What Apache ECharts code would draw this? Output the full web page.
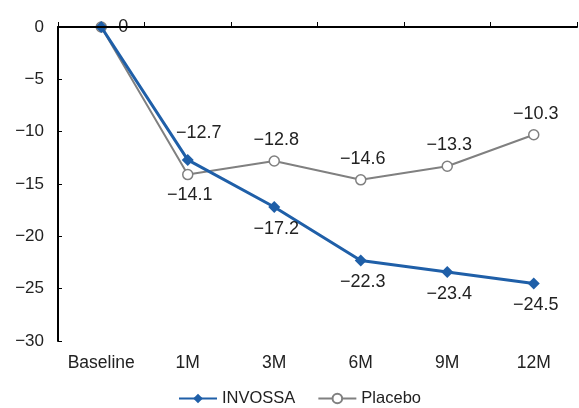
<!DOCTYPE html>
<html>
<head>
<meta charset="utf-8">
<script src="https://cdn.jsdelivr.net/npm/echarts@6/dist/echarts.min.js"></script>
<style>
html,body{margin:0;padding:0;background:#fff;}
#chart{width:579px;height:408px;}
</style>
</head>
<body>
<div id="chart"></div>
<script>
const categories = ['Baseline', '1M', '3M', '6M', '9M', '12M'];
const invossa = [0, -12.7, -17.2, -22.3, -23.4, -24.5];
const placebo = [0, -14.1, -12.8, -14.6, -13.3, -10.3];
const invossaLabelPos = ['right', 'top', 'bottom', 'bottom', 'bottom', 'bottom'];
const placeboLabelPos = [null, 'bottom', 'top', 'top', 'top', 'top'];

const FONT = '"Liberation Sans", Arial, sans-serif';
const minus = v => String(v).replace('-', '\u2212');

const chart = echarts.init(document.getElementById('chart'));

const invDist = { right: 9, top: 12, bottom: 7 };
const invData = invossa.map((v, i) => ({
  value: v,
  label: {
    show: true,
    position: invossaLabelPos[i],
    distance: invDist[invossaLabelPos[i]],
    // nudge the label that sits above the crossing lines
    offset: invossaLabelPos[i] === 'top' ? [11, 0] : [2, 0]
  }
}));
const plaData = placebo.map((v, i) => ({
  value: v,
  label: {
    show: placeboLabelPos[i] !== null,
    position: placeboLabelPos[i] || 'top',
    distance: 6,
    offset: [2, 0]
  }
}));

chart.setOption({
  animation: false,
  grid: { left: 58, right: 2, top: 27, bottom: 67 },
  legend: {
    bottom: 1,
    left: 178,
    padding: 0,
    itemWidth: 38,
    itemHeight: 12,
    itemGap: 22,
    textStyle: { fontFamily: FONT, fontSize: 16.5, color: '#222' },
    data: ['INVOSSA', 'Placebo']
  },
  xAxis: [
    {
      type: 'category',
      data: categories,
      axisLine: { onZero: true, lineStyle: { color: '#000', width: 2 } },
      axisTick: { show: true, inside: true, length: 5, lineStyle: { color: '#000', width: 1 } },
      axisLabel: { show: false },
      z: 5
    },
    {
      type: 'category',
      data: categories,
      position: 'bottom',
      axisLine: { show: false },
      axisTick: { show: false },
      axisLabel: { show: true, interval: 0, fontFamily: FONT, fontSize: 17.5, color: '#222', margin: 13 }
    }
  ],
  yAxis: {
    type: 'value',
    min: -30,
    max: 0,
    interval: 5,
    axisLine: { show: true, lineStyle: { color: '#000', width: 2 } },
    axisTick: { show: true, inside: true, length: 4, lineStyle: { color: '#000', width: 1 } },
    splitLine: { show: false },
    axisLabel: {
      fontFamily: FONT, fontSize: 17, color: '#222', margin: 14,
      formatter: v => minus(v)
    }
  },
  series: [
    {
      name: 'Placebo',
      type: 'line',
      xAxisIndex: 0,
      data: plaData,
      symbol: 'circle',
      symbolSize: 10,
      itemStyle: { color: '#fff', borderColor: '#808080', borderWidth: 1.5 },
      lineStyle: { color: '#808080', width: 2 },
      label: {
        fontFamily: FONT, fontSize: 18, color: '#222',
        formatter: p => minus(p.value)
      },
      z: 2
    },
    {
      name: 'INVOSSA',
      type: 'line',
      xAxisIndex: 0,
      data: invData,
      symbol: 'diamond',
      symbolSize: 12,
      itemStyle: { color: '#1f5fa8' },
      lineStyle: { color: '#1f5fa8', width: 3 },
      label: {
        fontFamily: FONT, fontSize: 18, color: '#222',
        formatter: p => minus(p.value)
      },
      z: 3
    }
  ]
});
</script>
</body>
</html>
